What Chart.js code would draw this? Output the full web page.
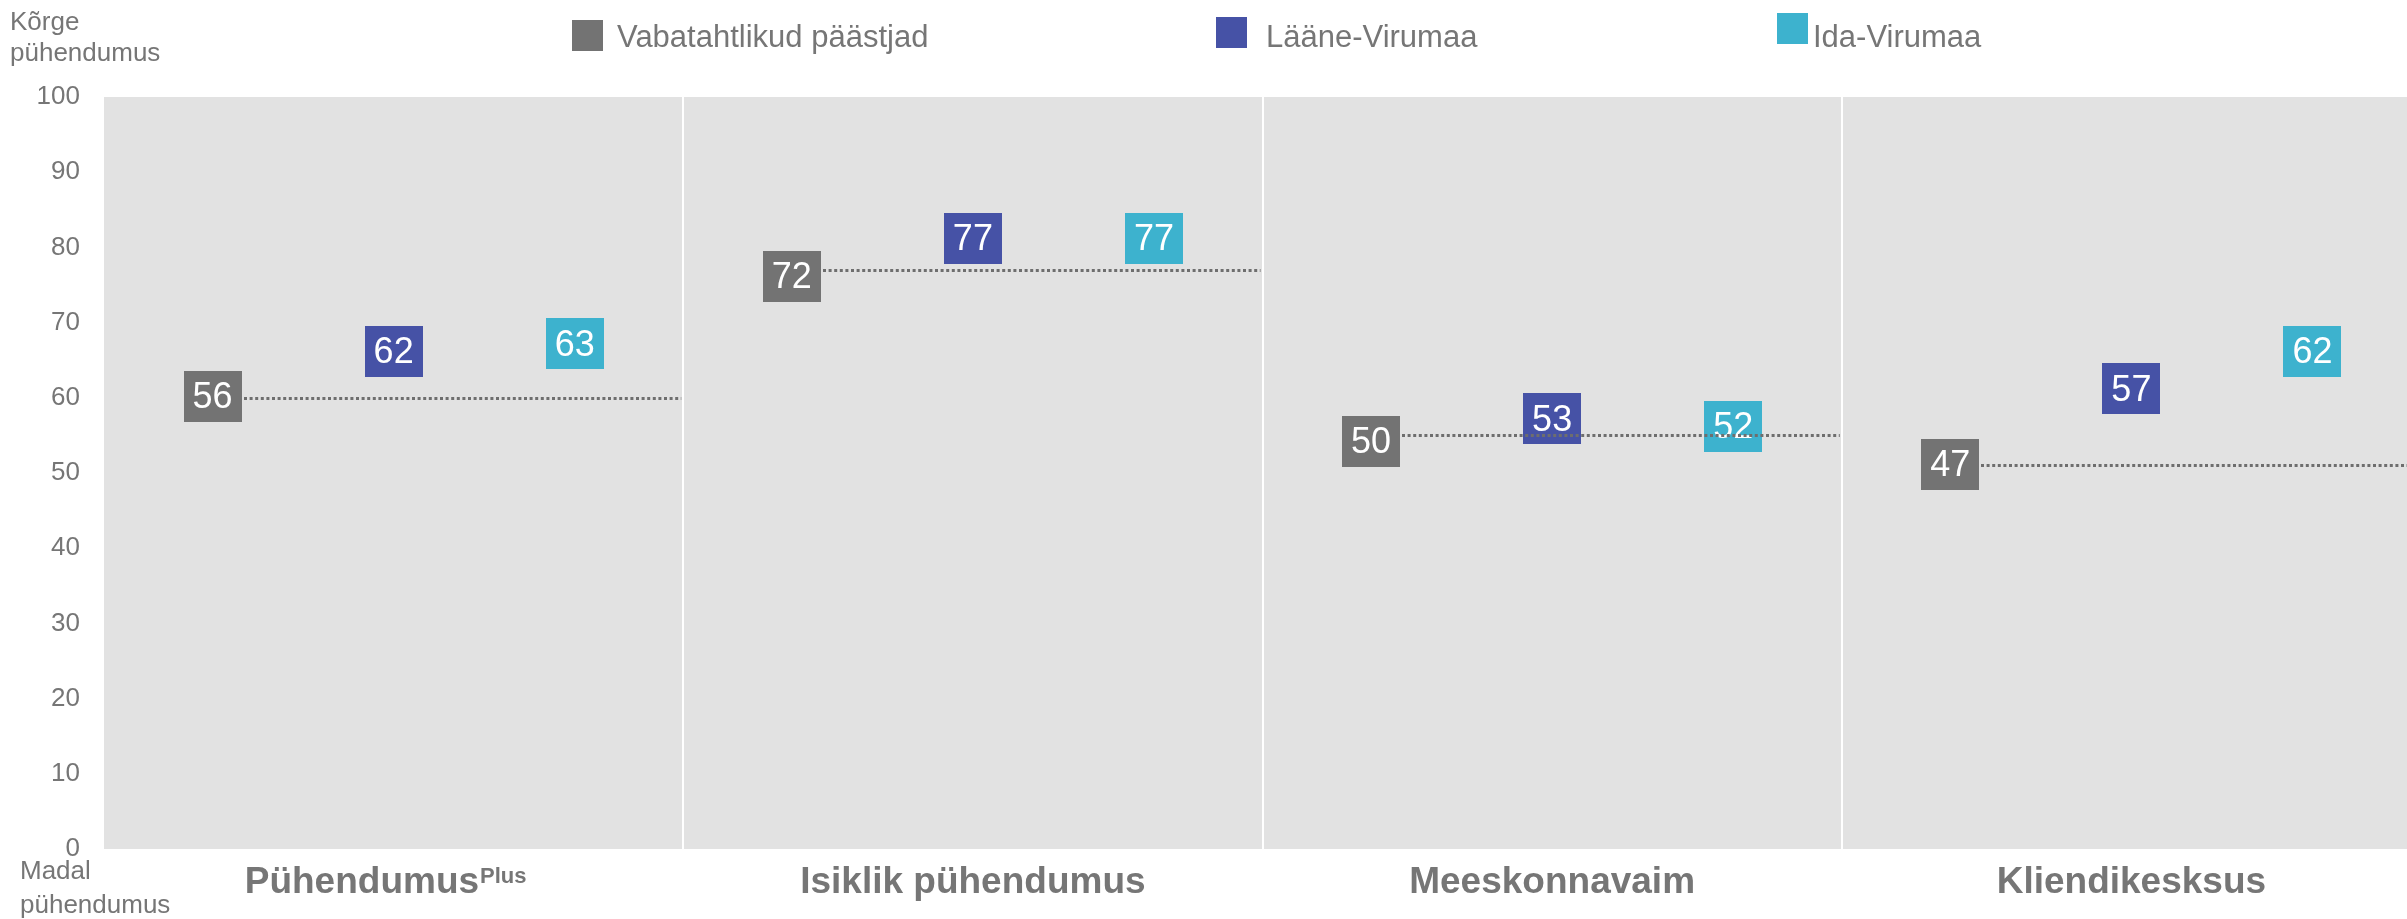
<!DOCTYPE html>
<html>
<head>
<meta charset="utf-8">
<script src="https://cdn.jsdelivr.net/npm/chart.js@4.4.1/dist/chart.umd.min.js"></script>
<style>
html,body{margin:0;padding:0;background:#ffffff;overflow:hidden}
#wrap{position:relative;width:2421px;height:919px}
</style>
</head>
<body>
<div id="wrap"><canvas id="c"></canvas></div>
<script>
// ---- data ----
const categories = ['Pühendumus', 'Isiklik pühendumus', 'Meeskonnavaim', 'Kliendikesksus'];
const categorySuperscripts = ['Plus', '', '', ''];
const seriesNames = ['Vabatahtlikud päästjad', 'Lääne-Virumaa', 'Ida-Virumaa'];
const vabatahtlikudPaastjad = [56, 72, 50, 47];
const laaneVirumaa = [62, 77, 53, 57];
const idaVirumaa = [63, 77, 52, 62];
const referenceLine = [60, 77, 55, 51];
const yTickMin = 0, yTickMax = 100, yTickStep = 10;
const topAxisLabel = ['Kõrge', 'pühendumus'];
const bottomAxisLabel = ['Madal', 'pühendumus'];

// ---- styles ----
const FONT = "'Liberation Sans', Arial, sans-serif";
const TEXT_GRAY = '#767676';
const COLORS = ['#737373', '#4652A6', '#3DB2CE'];
const SERIES_OFFSET = [-0.3126, 0, 0.3126];
const BOX_W = 58, BOX_H = 51, BOX_GAP = 6;

const seriesValues = [vabatahtlikudPaastjad, laaneVirumaa, idaVirumaa];
const datasets = seriesValues.map((vals, k) => ({
  label: seriesNames[k],
  data: vals.map((v, i) => ({ x: i + SERIES_OFFSET[k], y: v })),
  backgroundColor: COLORS[k],
  borderColor: COLORS[k],
  pointRadius: 0,
  pointHoverRadius: 0,
  showLine: false
}));

const backgroundPlugin = {
  id: 'bg',
  beforeDraw(chart) {
    const { ctx, chartArea: a, scales } = chart;
    ctx.save();
    ctx.fillStyle = '#E2E2E2';
    ctx.fillRect(a.left, a.top, a.right - a.left, a.bottom - a.top);
    ctx.strokeStyle = '#FFFFFF';
    ctx.lineWidth = 2;
    for (let i = 0; i < categories.length - 1; i++) {
      const x = Math.round(scales.x.getPixelForValue(i + 0.5));
      ctx.beginPath();
      ctx.moveTo(x, a.top);
      ctx.lineTo(x, a.bottom);
      ctx.stroke();
    }
    ctx.restore();
  }
};

const boxPlugin = {
  id: 'boxes',
  afterDatasetsDraw(chart) {
    const { ctx, scales } = chart;
    ctx.save();
    chart.data.datasets.forEach((ds, k) => {
      const meta = chart.getDatasetMeta(k);
      meta.data.forEach((pt, i) => {
        const cx = pt.x, bottom = pt.y - BOX_GAP;
        ctx.fillStyle = COLORS[k];
        ctx.fillRect(Math.round(cx - BOX_W / 2), Math.round(bottom - BOX_H), BOX_W, BOX_H);
        ctx.fillStyle = '#FFFFFF';
        ctx.font = '36px ' + FONT;
        ctx.textAlign = 'center';
        ctx.textBaseline = 'middle';
        ctx.fillText(String(ds.data[i].y), cx, bottom - BOX_H / 2 + 2);
      });
    });
    // dotted reference lines, starting at the right edge of the first series box
    const meta0 = chart.getDatasetMeta(0);
    ctx.strokeStyle = '#6E6E6E';
    ctx.lineWidth = 3;
    ctx.setLineDash([3, 2.6]);
    referenceLine.forEach((v, i) => {
      const y = Math.round(scales.y.getPixelForValue(v)) + 0.5;
      const x0 = Math.round(meta0.data[i].x + BOX_W / 2 + 2);
      const x1 = scales.x.getPixelForValue(i + 0.5) - 2;
      ctx.beginPath();
      ctx.moveTo(x0, y);
      ctx.lineTo(x1, y);
      ctx.stroke();
    });
    ctx.restore();
  }
};

const textPlugin = {
  id: 'texts',
  afterDraw(chart) {
    const { ctx, scales } = chart;
    ctx.save();
    // legend
    const legendPos = [
      { sx: 572, sy: 20, tx: 617 },
      { sx: 1216, sy: 17, tx: 1266 },
      { sx: 1777, sy: 13, tx: 1813 }
    ];
    ctx.textBaseline = 'alphabetic';
    ctx.textAlign = 'left';
    seriesNames.forEach((name, k) => {
      const p = legendPos[k];
      ctx.fillStyle = COLORS[k];
      ctx.fillRect(p.sx, p.sy, 31, 31);
      ctx.fillStyle = TEXT_GRAY;
      ctx.font = '31px ' + FONT;
      ctx.fillText(name, p.tx, 47);
    });
    // top & bottom axis annotations
    ctx.font = '26px ' + FONT;
    ctx.fillStyle = TEXT_GRAY;
    ctx.fillText(topAxisLabel[0], 10, 30);
    ctx.fillText(topAxisLabel[1], 10, 61);
    ctx.fillText(bottomAxisLabel[0], 20, 879);
    ctx.fillText(bottomAxisLabel[1], 20, 913);
    // category labels
    categories.forEach((cat, i) => {
      const cx = scales.x.getPixelForValue(i);
      const sup = categorySuperscripts[i];
      ctx.font = 'bold 37px ' + FONT;
      const w1 = ctx.measureText(cat).width;
      let w2 = 0;
      if (sup) { ctx.font = 'bold 22px ' + FONT; w2 = ctx.measureText(sup).width + 1; }
      const start = cx - (w1 + w2) / 2 - (sup ? 8 : 0);
      ctx.fillStyle = TEXT_GRAY;
      ctx.font = 'bold 37px ' + FONT;
      ctx.fillText(cat, start, 893);
      if (sup) {
        ctx.font = 'bold 22px ' + FONT;
        ctx.fillText(sup, start + w1 + 1, 883);
      }
    });
    ctx.restore();
  }
};

new Chart(document.getElementById('c'), {
  type: 'scatter',
  data: { datasets },
  options: {
    responsive: true,
    maintainAspectRatio: false,
    animation: false,
    events: [],
    layout: { padding: { top: 97, left: 0, right: 0, bottom: 0 } },
    plugins: { legend: { display: false }, tooltip: { enabled: false } },
    scales: {
      x: {
        type: 'linear',
        min: -0.5,
        max: categories.length - 0.5,
        grid: { display: false, drawTicks: false },
        border: { display: false },
        ticks: { display: false },
        afterFit(scale) { scale.height = 70; scale.paddingLeft = 0; scale.paddingRight = 0; }
      },
      y: {
        min: yTickMin,
        max: yTickMax,
        grid: { display: false, drawTicks: false },
        border: { display: false },
        ticks: {
          stepSize: yTickStep,
          padding: 24,
          color: TEXT_GRAY,
          font: { family: FONT, size: 26 }
        },
        afterFit(scale) { scale.width = 104; scale.paddingTop = 0; scale.paddingBottom = 0; }
      }
    }
  },
  plugins: [backgroundPlugin, boxPlugin, textPlugin]
});
</script>
</body>
</html>
